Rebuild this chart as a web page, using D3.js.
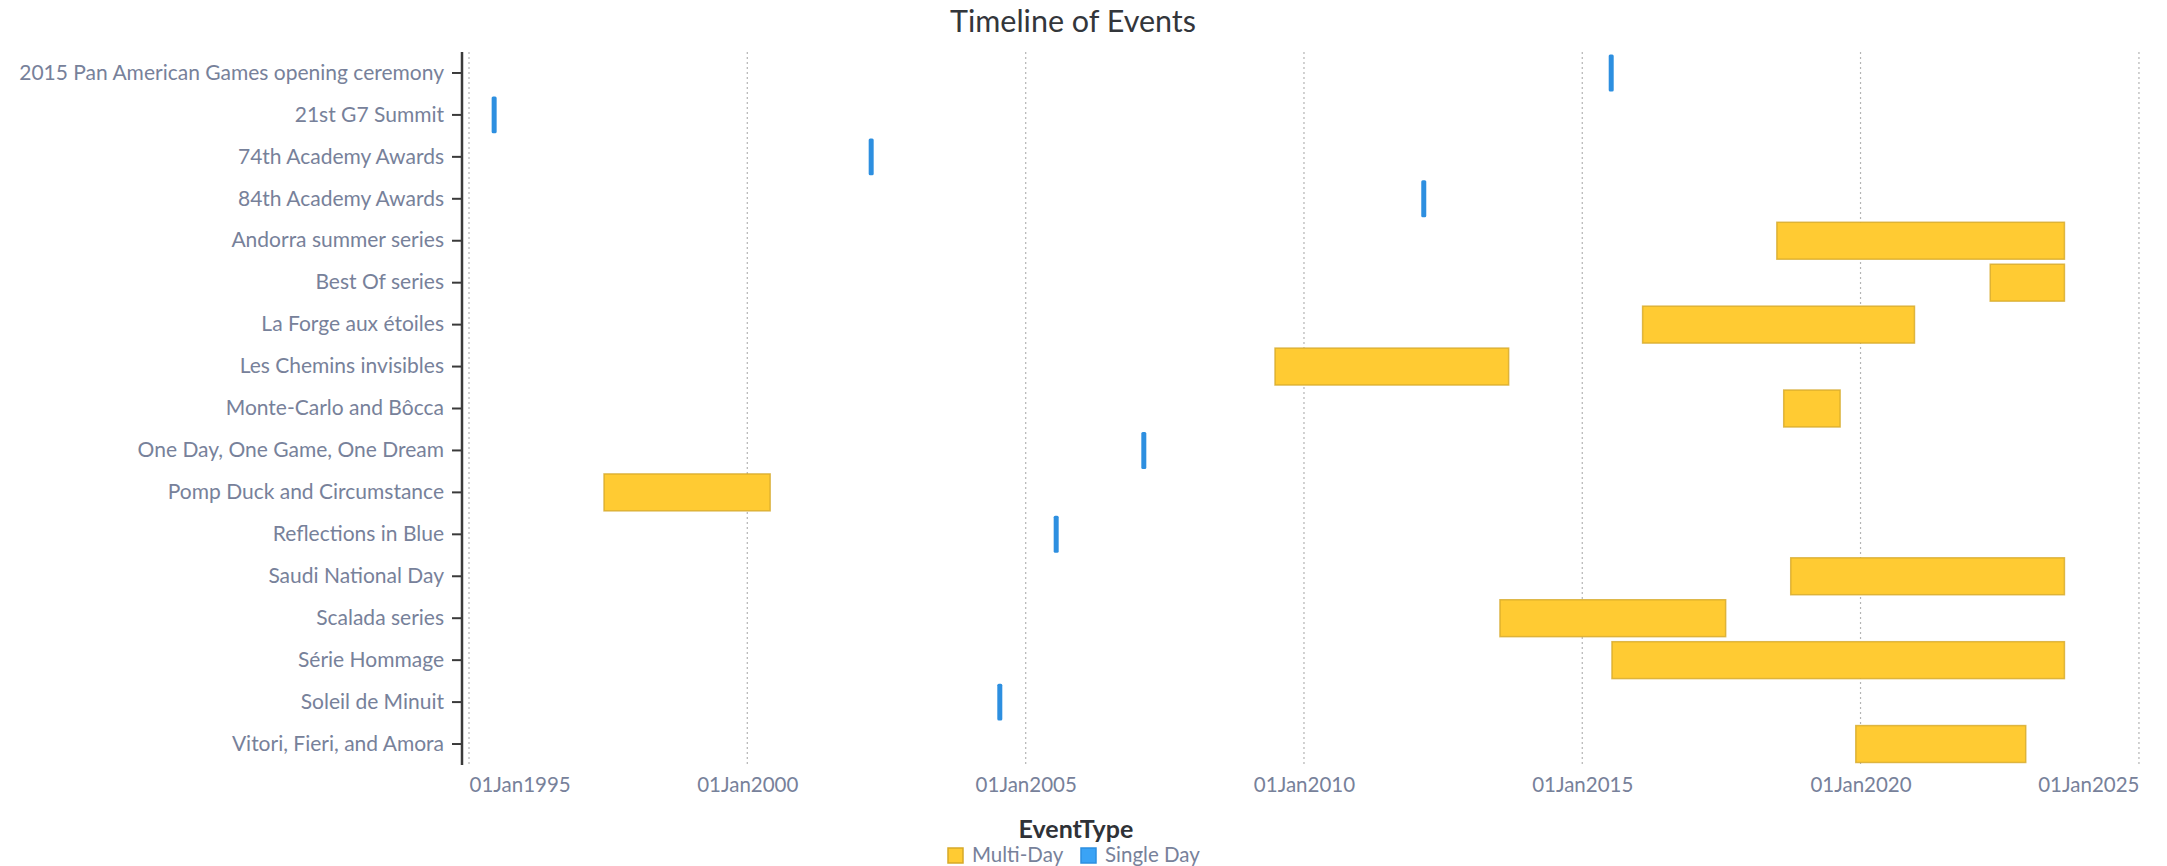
<!DOCTYPE html>
<html>
<head>
<meta charset="utf-8">
<script src="https://cdn.jsdelivr.net/npm/d3@7"></script>
<style>
  body { margin: 0; background: #fff; }
  text { font-family: Lato, "Open Sans", sans-serif; }
</style>
</head>
<body>
<script>
// Event data
const events = [
    "2015 Pan American Games opening ceremony", "21st G7 Summit", "74th Academy Awards",
    "84th Academy Awards", "Andorra summer series", "Best Of series", "La Forge aux étoiles",
    "Les Chemins invisibles", "Monte-Carlo and Bôcca", "One Day, One Game, One Dream",
    "Pomp Duck and Circumstance", "Reflections in Blue", "Saudi National Day",
    "Scalada series", "Série Hommage", "Soleil de Minuit", "Vitori, Fieri, and Amora"
];
const startDates = [
    "2015-07-10", "1995-06-15", "2002-03-24", "2012-02-26", "2018-07-01", "2022-05-01",
    "2016-02-01", "2009-06-25", "2018-08-15", "2007-02-15", "1997-06-05", "2005-07-20",
    "2018-09-30", "2013-07-10", "2015-07-15", "2004-07-15", "2019-12-01"
];
const endDates = [
    "2015-07-10", "1995-06-15", "2002-03-24", "2012-02-26", "2023-08-31", "2023-08-31",
    "2020-12-20", "2013-09-05", "2019-08-20", "2007-02-15", "2000-05-30", "2005-07-20",
    "2023-08-31", "2017-07-30", "2023-08-31", "2004-07-15", "2022-12-20"
];
const eventTypes = [
    "Single Day", "Single Day", "Single Day", "Single Day", "Multi-Day", "Multi-Day",
    "Multi-Day", "Multi-Day", "Multi-Day", "Single Day", "Multi-Day", "Single Day",
    "Multi-Day", "Multi-Day", "Multi-Day", "Single Day", "Multi-Day"
];
const typeNames = ["Multi-Day", "Single Day"];
const tickYears = [1995, 2000, 2005, 2010, 2015, 2020, 2025];

const width = 2167;
const height = 866;
const plotLeft = 462, plotRight = 2142, plotTop = 52, plotBottom = 765;
const labelColor = "#77819a";

const parse = d3.timeParse("%Y-%m-%d");
const data = events.map((name, i) => ({
    name: name,
    start: parse(startDates[i]),
    end: parse(endDates[i]),
    type: eventTypes[i]
}));

const svg = d3.select("body").append("svg")
    .attr("width", width)
    .attr("height", height);

const x = d3.scaleTime()
    .domain([new Date(1994, 10, 16), new Date(2025, 0, 21)])
    .range([plotLeft, plotRight]);

const y = d3.scaleBand()
    .domain(events)
    .range([plotTop, plotBottom])
    .paddingInner(0.12)
    .paddingOuter(0.06);

const fill = d3.scaleOrdinal().domain(typeNames).range(["#ffcb33", "#2d8fe0"]);
const stroke = d3.scaleOrdinal().domain(typeNames).range(["#d6a929", "#2d8fe0"]);

// Title
svg.append("text")
    .attr("x", 1073)
    .attr("y", 32)
    .attr("text-anchor", "middle")
    .attr("font-size", 30.5)
    .attr("fill", "#33363b")
    .text("Timeline of Events");

// Dotted grid lines
const tickDates = tickYears.map(yr => new Date(yr, 0, 1));
svg.append("g")
    .selectAll("line")
    .data(tickDates)
    .join("line")
    .attr("x1", d => x(d))
    .attr("x2", d => x(d))
    .attr("y1", plotTop)
    .attr("y2", plotBottom)
    .attr("stroke", "#b4b4b4")
    .attr("stroke-width", 1.2)
    .attr("stroke-dasharray", "2,3");

// Bars
svg.append("g")
    .selectAll("rect")
    .data(data)
    .join("rect")
    .attr("x", d => {
        const w = x(d.end) - x(d.start);
        return w < 5 ? x(d.start) - 2.5 : x(d.start);
    })
    .attr("width", d => Math.max(5, x(d.end) - x(d.start)))
    .attr("y", d => y(d.name))
    .attr("height", y.bandwidth())
    .attr("rx", d => d.type === "Single Day" ? 1.5 : 0)
    .attr("fill", d => fill(d.type))
    .attr("stroke", d => stroke(d.type))
    .attr("stroke-opacity", 0.8)
    .attr("stroke-width", d => d.type === "Single Day" ? 0 : 1.5);

// X axis (labels only)
const xAxis = d3.axisBottom(x)
    .tickValues(tickDates)
    .tickFormat(d3.timeFormat("%d%b%Y"))
    .tickSize(0)
    .tickPadding(12);
const gx = svg.append("g")
    .attr("transform", "translate(0," + plotBottom + ")")
    .call(xAxis);
gx.select(".domain").remove();
gx.selectAll("text")
    .attr("font-size", 20.5)
    .attr("fill", labelColor)
    .style("font-family", "Lato, sans-serif")
    .attr("text-anchor", (d, i) => i === 0 ? "start" : (i === tickDates.length - 1 ? "end" : "middle"));

// Y axis
const yAxis = d3.axisLeft(y).tickSize(10).tickPadding(8);
const gy = svg.append("g")
    .attr("transform", "translate(" + plotLeft + ",0)")
    .call(yAxis);
gy.select(".domain")
    .attr("stroke", "#3a3a3a")
    .attr("stroke-width", 2.5)
    .attr("d", "M0," + plotTop + "V" + plotBottom);
gy.selectAll(".tick line")
    .attr("stroke", "#3a3a3a")
    .attr("stroke-width", 2);
gy.selectAll("text")
    .attr("font-size", 21)
    .attr("fill", labelColor)
    .style("font-family", "Lato, sans-serif");

// Legend
svg.append("text")
    .attr("x", 1076)
    .attr("y", 838)
    .attr("text-anchor", "middle")
    .attr("font-size", 25)
    .attr("font-weight", "bold")
    .attr("fill", "#2f3237")
    .text("EventType");

const legendX = [948, 1081];
const legend = svg.append("g")
    .selectAll("g")
    .data(typeNames)
    .join("g")
    .attr("transform", (d, i) => "translate(" + legendX[i] + ",848)");
legend.append("rect")
    .attr("width", 15)
    .attr("height", 15)
    .attr("fill", d => d === "Single Day" ? "#3aa3f5" : fill(d))
    .attr("stroke", d => d === "Single Day" ? "#2d8fe0" : stroke(d))
    .attr("stroke-width", 1.5);
legend.append("text")
    .attr("x", 24)
    .attr("y", 14)
    .attr("font-size", 20.5)
    .attr("fill", labelColor)
    .text(d => d);
</script>
</body>
</html>
